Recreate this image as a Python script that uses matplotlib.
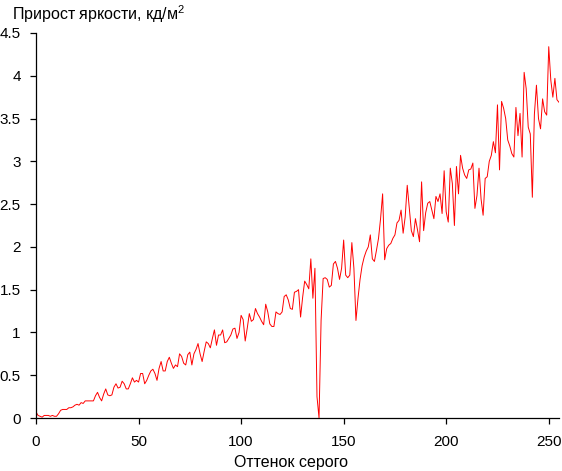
import numpy as np
import matplotlib
matplotlib.use("Agg")
import matplotlib.pyplot as plt

plt.rcParams['font.family'] = ['Liberation Sans', 'DejaVu Sans']
plt.rcParams['mathtext.fontset'] = 'custom'
plt.rcParams['mathtext.rm'] = 'Liberation Sans'
plt.rcParams['mathtext.it'] = 'Liberation Sans'
plt.rcParams['mathtext.bf'] = 'Liberation Sans'

title = "Прирост яркости, кд/м$^{\\mathrm{2}}$"
xlabel = "Оттенок серого"
xticks = [0, 50, 100, 150, 200, 250]
yticks = [0, 0.5, 1, 1.5, 2, 2.5, 3, 3.5, 4, 4.5]
ytick_labels = ["0", "0.5", "1", "1.5", "2", "2.5", "3", "3.5", "4", "4.5"]

gray_level = list(range(0, 256))
brightness_gain = [
    # 0-9
    0.07, 0.03, 0.02, 0.01, 0.03, 0.03, 0.03, 0.02, 0.03, 0.02,
    # 10-19
    0.02, 0.05, 0.09, 0.10, 0.10, 0.10, 0.12, 0.12, 0.13, 0.15,
    # 20-29
    0.16, 0.15, 0.18, 0.17, 0.20, 0.20, 0.20, 0.20, 0.20, 0.26,
    # 30-39
    0.30, 0.24, 0.20, 0.28, 0.34, 0.27, 0.26, 0.27, 0.36, 0.40,
    # 40-49
    0.35, 0.36, 0.43, 0.40, 0.34, 0.34, 0.40, 0.47, 0.42, 0.44,
    # 50-59
    0.42, 0.52, 0.52, 0.40, 0.44, 0.50, 0.55, 0.57, 0.52, 0.44,
    # 60-69
    0.58, 0.66, 0.55, 0.55, 0.66, 0.71, 0.64, 0.58, 0.62, 0.60,
    # 70-79
    0.75, 0.72, 0.64, 0.62, 0.74, 0.77, 0.62, 0.75, 0.80, 0.87,
    # 80-89
    0.75, 0.66, 0.78, 0.89, 0.87, 0.82, 0.93, 1.03, 0.85, 0.97,
    # 90-99
    0.97, 1.03, 0.88, 0.89, 0.93, 0.97, 1.04, 1.05, 0.93, 1.00,
    # 100-109
    1.20, 1.15, 0.90, 1.05, 1.22, 1.13, 1.15, 1.28, 1.22, 1.18,
    # 110-119
    1.13, 1.09, 1.33, 1.24, 1.10, 1.07, 1.07, 1.24, 1.22, 1.21,
    # 120-129
    1.24, 1.42, 1.44, 1.38, 1.28, 1.27, 1.47, 1.48, 1.50, 1.18,
    # 130-139
    1.41, 1.60, 1.56, 1.51, 1.86, 1.40, 1.75, 0.25, 0.00, 1.14,
    # 140-149
    1.63, 1.64, 1.62, 1.53, 1.55, 1.80, 1.83, 1.75, 1.62, 1.75,
    # 150-159
    2.08, 1.67, 1.64, 1.67, 2.05, 1.75, 1.14, 1.40, 1.62, 1.78,
    # 160-169
    1.88, 1.95, 2.00, 2.14, 1.86, 1.83, 1.96, 2.10, 2.33, 2.62,
    # 170-179
    1.85, 1.98, 2.02, 2.04, 2.10, 2.14, 2.28, 2.31, 2.43, 2.16,
    # 180-189
    2.35, 2.72, 2.45, 2.19, 2.12, 2.33, 2.20, 2.06, 2.76, 2.19,
    # 190-199
    2.40, 2.51, 2.53, 2.43, 2.33, 2.59, 2.53, 2.62, 2.39, 2.89,
    # 200-209
    2.41, 2.29, 2.92, 2.74, 2.25, 2.94, 2.62, 3.07, 2.92, 2.84,
    # 210-219
    2.80, 2.90, 2.91, 2.98, 2.45, 2.60, 2.92, 2.56, 2.37, 2.80,
    # 220-229
    2.82, 3.00, 3.07, 3.23, 3.10, 3.66, 2.90, 3.70, 3.62, 3.50,
    # 230-239
    3.25, 3.18, 3.09, 3.05, 3.63, 3.30, 3.56, 3.05, 4.04, 3.85,
    # 240-249
    3.40, 3.32, 2.58, 3.55, 3.89, 3.50, 3.38, 3.73, 3.58, 3.54,
    # 250-255
    4.34, 3.95, 3.75, 3.97, 3.72, 3.69,
]

fig = plt.figure(figsize=(5.62, 4.71), dpi=100)
ax = fig.add_axes([36 / 562, 53 / 471, 523 / 562, 385 / 471])

ax.plot(gray_level, brightness_gain, color="#ff0000", lw=0.7, antialiased=True)

ax.set_xlim(0, 255)
ax.set_ylim(0, 4.5)
ax.set_xticks(xticks)
ax.set_yticks(yticks)
ax.set_yticklabels(ytick_labels)

for s in ["top", "right"]:
    ax.spines[s].set_visible(False)
for s in ["left", "bottom"]:
    ax.spines[s].set_linewidth(0.9)
    ax.spines[s].set_color("black")

ax.tick_params(axis="both", direction="out", length=4, width=0.9, labelsize=11, colors="black")
ax.tick_params(axis="y", pad=7)
ax.tick_params(axis="x", pad=8)

fig.text(12 / 562, 1 - 14 / 471, title, fontsize=11.5, ha="left", va="center")
fig.text(291 / 562, 1 - 463 / 471, xlabel, fontsize=11.5, ha="center", va="center")

fig.savefig("out.png", dpi=100)
